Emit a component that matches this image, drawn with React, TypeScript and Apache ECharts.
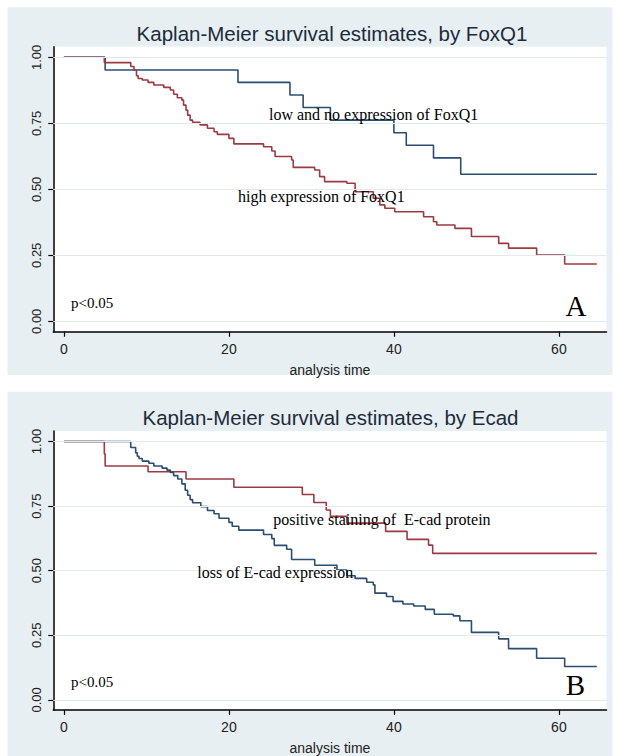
import React, { useEffect, useRef } from "react";
import * as echarts from "echarts";

// ---- data ----
const xTicks = [0, 20, 40, 60];
const yTicks = [0, 0.25, 0.5, 0.75, 1];

const titleA = "Kaplan-Meier survival estimates, by FoxQ1";
const titleB = "Kaplan-Meier survival estimates, by Ecad";

const foxLowTime = [0, 5, 21.1, 27.4, 29.0, 32.3, 40.0, 41.5, 44.8, 48.1, 64.6];
const foxLowSurv = [1, 0.952, 0.905, 0.857, 0.81, 0.762, 0.714, 0.667, 0.619, 0.557, 0.557];

const foxHighTime = [0, 4.9, 8.1, 8.5, 8.8, 9.0, 9.5, 10.2, 10.9, 12.1, 12.9, 13.3, 13.75, 14.3, 14.5, 14.8, 15.0, 15.3, 15.6, 16.5, 17.4, 18.2, 18.6, 20.0, 20.6, 24.2, 25.2, 25.6, 27.6, 27.8, 30.4, 31.0, 31.6, 34.3, 35.3, 37.5, 38.3, 38.9, 40.1, 43.6, 44.8, 45.2, 47.4, 49.4, 52.7, 53.9, 57.3, 60.7, 64.6];
const foxHighSurv = [1, 0.98, 0.965, 0.952, 0.93, 0.92, 0.914, 0.905, 0.895, 0.886, 0.876, 0.86, 0.847, 0.838, 0.819, 0.8, 0.781, 0.762, 0.754, 0.744, 0.731, 0.718, 0.708, 0.693, 0.672, 0.661, 0.645, 0.624, 0.611, 0.583, 0.573, 0.548, 0.529, 0.523, 0.491, 0.466, 0.441, 0.428, 0.415, 0.396, 0.377, 0.365, 0.352, 0.321, 0.295, 0.277, 0.251, 0.217, 0.217];

const ecadPosTime = [0, 4.9, 5.0, 10.2, 14.8, 20.6, 28.9, 30.3, 31.8, 32.3, 34.3, 39.0, 41.6, 44.2, 44.7, 64.6];
const ecadPosSurv = [1, 0.952, 0.905, 0.883, 0.855, 0.823, 0.795, 0.764, 0.735, 0.71, 0.684, 0.652, 0.621, 0.599, 0.567, 0.567];

const ecadLossTime = [0, 8.1, 8.7, 8.9, 9.1, 9.5, 10.3, 10.9, 11.9, 12.5, 12.9, 13.3, 13.8, 14.3, 14.7, 15.0, 15.3, 15.6, 16.6, 17.4, 18.2, 18.8, 20.0, 20.4, 21.2, 24.2, 25.2, 25.5, 27.0, 27.6, 30.4, 33.1, 34.3, 35.3, 36.7, 37.5, 37.7, 39.1, 39.9, 41.1, 42.4, 43.8, 44.9, 47.2, 48.0, 49.4, 52.7, 53.9, 57.3, 60.7, 64.6];
const ecadLossSurv = [1, 0.977, 0.956, 0.943, 0.934, 0.924, 0.916, 0.905, 0.897, 0.889, 0.88, 0.868, 0.855, 0.836, 0.811, 0.792, 0.775, 0.763, 0.748, 0.733, 0.72, 0.703, 0.687, 0.672, 0.657, 0.64, 0.624, 0.598, 0.583, 0.543, 0.521, 0.502, 0.48, 0.47, 0.455, 0.445, 0.413, 0.4, 0.381, 0.371, 0.363, 0.35, 0.331, 0.325, 0.306, 0.261, 0.236, 0.198, 0.161, 0.129, 0.129];

// ---- style ----
const NAVY = "#2a4d70";
const MAROON = "#9a3a42";
const PANEL_BG = "#e8eff2";
const GRID_LINE = "#e3eaee";
const SANS = "'Liberation Sans', Arial, sans-serif";
const SERIF = "'Liberation Serif', 'Times New Roman', serif";

const OFFSET = 384.4;
const GRID_LEFT = 53.3;
const GRID_TOP = 46.7;
const GRID_W = 553.2;
const GRID_H = 285;
const X_MIN = -1.285;
const X_MAX = 65.77;
const Y_MIN = -0.0394;
const Y_MAX = 1.0402;

const pairs = (t: number[], s: number[]) => t.map((v, i) => [v, s[i]]);

function axesFor(idx: number) {
  const xAxis = {
    type: "value",
    gridIndex: idx,
    min: X_MIN,
    max: X_MAX,
    axisLine: { show: true, onZero: false, lineStyle: { color: "#000", width: 1.5 } },
    axisTick: { show: true, customValues: xTicks, length: 5, lineStyle: { color: "#000", width: 1.2 } },
    axisLabel: { customValues: xTicks, fontSize: 14, color: "#222", margin: 10, fontFamily: SANS },
    splitLine: { show: false },
    name: "analysis time",
    nameLocation: "middle",
    nameGap: 31,
    nameTextStyle: { fontSize: 14, color: "#222", fontFamily: SANS },
  };
  const yAxis = {
    type: "value",
    gridIndex: idx,
    min: Y_MIN,
    max: Y_MAX,
    axisLine: { show: true, onZero: false, lineStyle: { color: "#000", width: 1.5 } },
    axisTick: { show: true, customValues: yTicks, length: 5, lineStyle: { color: "#000", width: 1.2 } },
    axisLabel: {
      customValues: yTicks,
      rotate: 90,
      fontSize: 13,
      color: "#222",
      margin: 10,
      fontFamily: SANS,
      formatter: (v: number) => v.toFixed(2),
    },
    splitLine: { show: false },
  };
  return { xAxis, yAxis };
}

function gridSeries(idx: number) {
  return {
    type: "line",
    xAxisIndex: idx,
    yAxisIndex: idx,
    data: [],
    silent: true,
    z: 1,
    markLine: {
      silent: true,
      symbol: ["none", "none"],
      label: { show: false },
      lineStyle: { color: GRID_LINE, width: 1.2, type: "solid" },
      data: yTicks.map((v) => ({ yAxis: v })),
    },
  };
}

function curve(idx: number, name: string, t: number[], s: number[], color: string, z: number) {
  return {
    type: "line",
    name,
    xAxisIndex: idx,
    yAxisIndex: idx,
    data: pairs(t, s),
    step: "end",
    showSymbol: false,
    symbol: "none",
    z,
    lineStyle: { color, width: 1.6 },
    itemStyle: { color },
  };
}

function txt(text: string, x: number, y: number, font: string, align = "left", fill = "#000") {
  return {
    type: "text",
    x,
    y,
    z: 50,
    style: {
      text,
      font,
      fill,
      textAlign: align,
      align,
      textVerticalAlign: "middle",
      verticalAlign: "middle",
    },
  };
}

export default function App() {
  const ref = useRef<HTMLDivElement>(null);

  useEffect(() => {
    if (!ref.current) return;
    const chart = echarts.init(ref.current, undefined, { renderer: "svg" });
    const a = axesFor(0);
    const b = axesFor(1);
    chart.setOption({
      animation: false,
      backgroundColor: "#ffffff",
      grid: [
        { left: GRID_LEFT, top: GRID_TOP, width: GRID_W, height: GRID_H, show: true, backgroundColor: "#ffffff", borderWidth: 0 },
        { left: GRID_LEFT, top: GRID_TOP + OFFSET, width: GRID_W, height: GRID_H, show: true, backgroundColor: "#ffffff", borderWidth: 0 },
      ],
      xAxis: [a.xAxis, b.xAxis],
      yAxis: [a.yAxis, b.yAxis],
      series: [
        gridSeries(0),
        gridSeries(1),
        curve(0, "low and no expression of FoxQ1", foxLowTime, foxLowSurv, NAVY, 2),
        curve(0, "high expression of FoxQ1", foxHighTime, foxHighSurv, MAROON, 3),
        curve(1, "positive staining of E-cad protein", ecadPosTime, ecadPosSurv, MAROON, 2),
        curve(1, "loss of E-cad expression", ecadLossTime, ecadLossSurv, NAVY, 3),
      ],
      graphic: [
        { type: "rect", z: -10, shape: { x: 7.5, y: 7.3, width: 605, height: 367.7 }, style: { fill: PANEL_BG } },
        { type: "rect", z: -10, shape: { x: 7.5, y: 7.3 + OFFSET, width: 605, height: 370 }, style: { fill: PANEL_BG } },
        txt(titleA, 332, 33, `20.5px ${SANS}`, "center", "#1c2b3b"),
        txt(titleB, 330.5, 33 + OFFSET, `20.5px ${SANS}`, "center", "#1c2b3b"),
        txt("low and no expression of FoxQ1", 269, 114.3, `16px ${SERIF}`),
        txt("high expression of FoxQ1", 238, 196.7, `16px ${SERIF}`),
        txt("p<0.05", 71, 303.3, `15px ${SERIF}`),
        txt("A", 576, 306, `29px ${SERIF}`, "center"),
        txt("positive staining of  E-cad protein", 273.3, 519, `16px ${SERIF}`),
        txt("loss of E-cad expression", 197.3, 572.7, `16px ${SERIF}`),
        txt("p<0.05", 71, 682, `15px ${SERIF}`),
        txt("B", 575.5, 685, `29px ${SERIF}`, "center"),
      ],
    });
    return () => chart.dispose();
  }, []);

  return (
    <div
      ref={ref}
      style={{ position: "fixed", left: 0, top: 0, width: 618, height: 756 }}
    />
  );
}
